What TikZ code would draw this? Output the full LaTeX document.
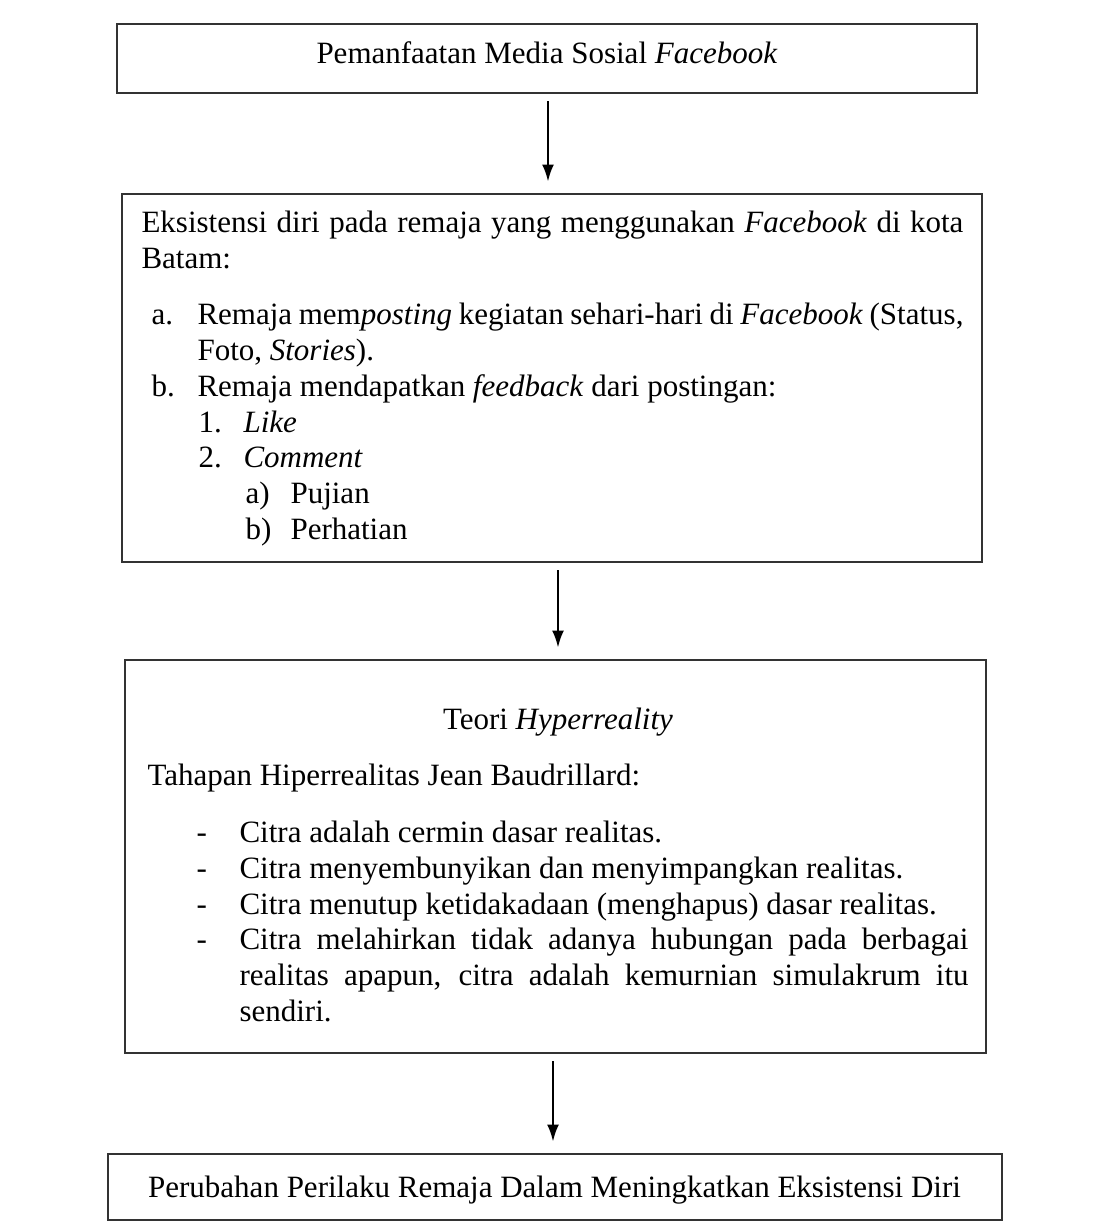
\documentclass[tikz,border=0pt]{standalone}
\usepackage{fontspec}
\setmainfont{Liberation Serif}
\usetikzlibrary{fit,calc,arrows.meta}
\newlength{\pxu}
\setlength{\pxu}{0.3871pt}
\tikzset{>={Latex[length=6.6pt,width=4.6pt]}}
\tikzset{
  kotak/.style = {draw=black!80, line width=0.95pt, inner sep=0pt},
  teks/.style = {anchor=base west, inner sep=0pt, font=\fontsize{12}{14}\selectfont},
  tengah/.style = {teks, anchor=base},
  panah/.style = {->, line width=0.9pt, shorten <=2.8pt, shorten >=4.3pt}
}
\newcommand{\rata}[2]{\makebox[#1\pxu][s]{#2}}

\begin{document}
\begin{tikzpicture}[x=0.3871pt,y=-0.3871pt]
  \useasboundingbox (0,0) rectangle (1095,1231);
  % boxes
  \node[kotak, fit={(117,24) (977,93)}] (pemanfaatan) {};
  \node[kotak, fit={(122,194) (982,562)}] (eksistensi) {};
  \node[kotak, fit={(125,660) (986,1053)}] (teori) {};
  \node[kotak, fit={(108,1154) (1002,1220)}] (perubahan) {};
  % first box
  \node[tengah] (judul1) at (547,63) {Pemanfaatan Media Sosial \textit{Facebook}};
  % second box
  \node[teks] (e1) at (141,232) {\rata{822}{Eksistensi diri pada remaja yang menggunakan \textit{Facebook} di kota}};
  \node[teks] (e2) at (141,268) {Batam:};
  \node[teks] (la) at (151,324) {a.};
  \node[teks] (e3) at (197,324) {\rata{766}{Remaja mem\textit{posting} kegiatan sehari-hari di \textit{Facebook} (Status,}};
  \node[teks] (e4) at (197,360) {Foto, \textit{Stories}).};
  \node[teks] (lb) at (151,396) {b.};
  \node[teks] (e5) at (197,396) {Remaja mendapatkan \textit{feedback} dari postingan:};
  \node[teks] (l1) at (198,432) {1.};
  \node[teks] (e6) at (243,432) {\textit{Like}};
  \node[teks] (l2) at (198,467) {2.};
  \node[teks] (e7) at (243,467) {\textit{Comment}};
  \node[teks] (lc) at (245,503) {a)};
  \node[teks] (e8) at (290,503) {Pujian};
  \node[teks] (ld) at (245,539) {b)};
  \node[teks] (e9) at (290,539) {Perhatian};
  % third box
  \node[tengah] (judul3) at (558,729) {Teori \textit{Hyperreality}};
  \node[teks] (t0) at (147,785) {Tahapan Hiperrealitas Jean Baudrillard:};
  \foreach \y/\n in {842/1,878/2,914/3,949/4}
    \node[teks] (d\n) at (196,\y) {-};
  \node[teks] (t1) at (239,842) {Citra adalah cermin dasar realitas.};
  \node[teks] (t2) at (239,878) {Citra menyembunyikan dan menyimpangkan realitas.};
  \node[teks] (t3) at (239,914) {Citra menutup ketidakadaan (menghapus) dasar realitas.};
  \node[teks] (t4) at (239,949) {\rata{729}{Citra melahirkan tidak adanya hubungan pada berbagai}};
  \node[teks] (t5) at (239,985) {\rata{729}{realitas apapun, citra adalah kemurnian simulakrum itu}};
  \node[teks] (t6) at (239,1021) {sendiri.};
  % last box
  \node[tengah] (judul4) at (554.5,1197) {Perubahan Perilaku Remaja Dalam Meningkatkan Eksistensi Diri};
  % arrows
  \draw[panah] ($(pemanfaatan.south)+(1,0)$) -- ($(pemanfaatan.south |- eksistensi.north)+(1,0)$);
  \draw[panah] ($(eksistensi.south)+(6,0)$) -- ($(eksistensi.south |- teori.north)+(6,0)$);
  \draw[panah] ($(teori.south)+(-2.5,0)$) -- ($(teori.south |- perubahan.north)+(-2.5,0)$);
\end{tikzpicture}
\end{document}
